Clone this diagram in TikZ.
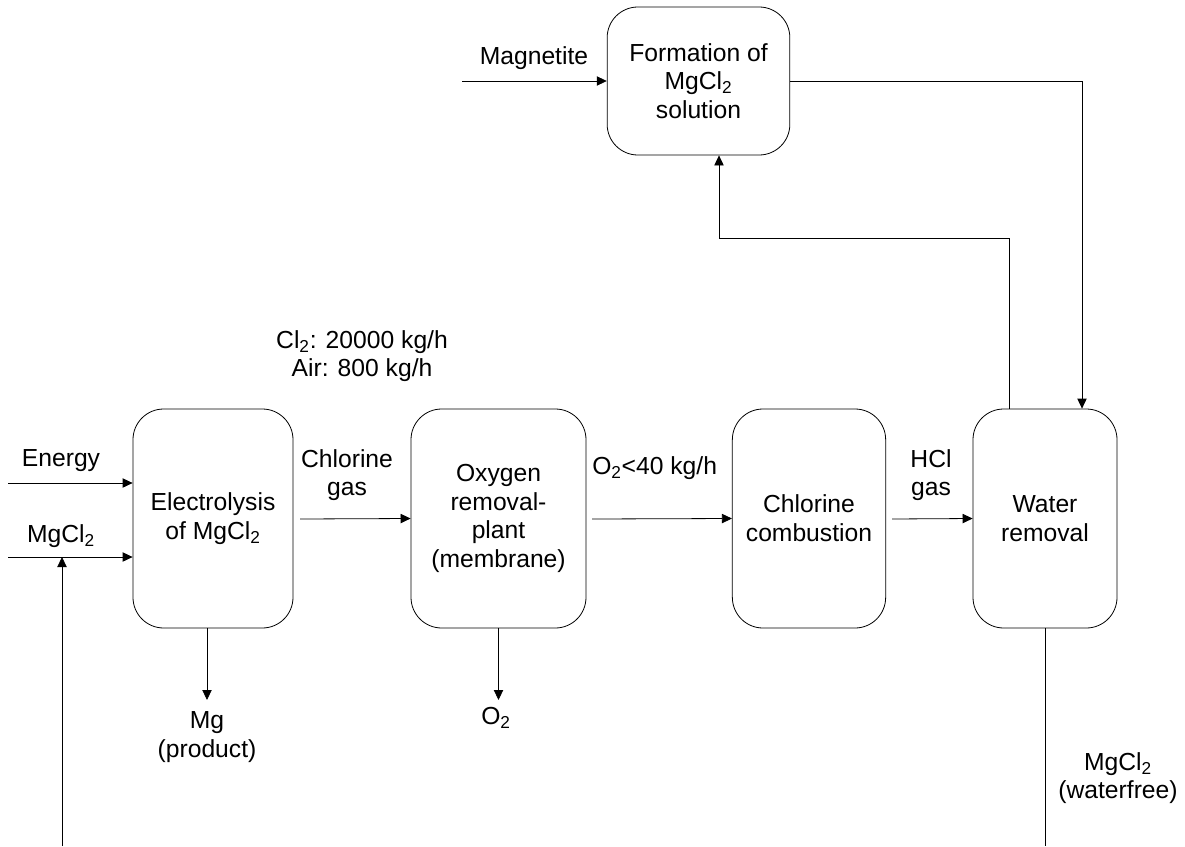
\documentclass[tikz,border=0pt]{standalone}
\usepackage{fontspec}
\setmainfont{Liberation Sans}
\usetikzlibrary{arrows.meta}

\tikzset{
  process/.style={draw, rounded corners=23pt, align=center, minimum height=164.25pt, line width=0.6pt, inner sep=1pt},
  flow/.style={-{Triangle[length=7.5pt,width=7pt]}, line width=0.6pt},
  line/.style={line width=0.6pt},
  txt/.style={align=center, inner sep=0pt}
}

\begin{document}
\fontsize{18.5}{21.5}\selectfont
\begin{tikzpicture}[x=0.75pt, y=-0.75pt]
  \useasboundingbox (0,0) rectangle (1185,846);

  % process units
  \node[process, minimum width=120pt] (electro) at (213,518.5) {Electrolysis\\of MgCl\textsubscript{2}};
  \node[process, minimum width=131.25pt] (oxygen) at (498.5,518.5) {Oxygen\\removal-\\plant\\(membrane)};
  \node[process, minimum width=115pt] (combust) at (809,518.5) {Chlorine\\combustion};
  \node[process, minimum width=108pt] (water) at (1045,518.5) {Water\\removal};
  \node[process, minimum width=137pt, minimum height=111pt] (formation) at (698.5,81) {Formation of\\MgCl\textsubscript{2}\\solution};

  % free ends
  \coordinate (energy) at (8,483);
  \coordinate (feed) at (8,557);
  \coordinate (recycle) at (62,846);
  \coordinate (mg) at (207,700);
  \coordinate (otwo) at (498.5,700);
  \coordinate (chlorine) at (300,519);
  \coordinate (oxout) at (592,519);
  \coordinate (hclout) at (892,519);
  \coordinate (magnetite) at (462,81);
  \coordinate (hclin) at (1009,238);
  \coordinate (solout) at (1082,81);
  \coordinate (product) at (1045,846);

  % labels
  \node[txt] (energylbl) at (61,461) {Energy};
  \node[txt] (feedlbl) at (61,536) {MgCl\textsubscript{2}};
  \node[txt] (chlorinelbl) at (347,475) {Chlorine\\gas};
  \node[txt] (gaslbl) at (362,356) {Cl\textsubscript{2}: 20000 kg/h\\Air: 800 kg/h};
  \node[txt, anchor=west] (oxlbl) at (592,468) {O\textsubscript{2}<40 kg/h};
  \node[txt] (hcllbl) at (931,475) {HCl\\gas};
  \node[txt] (magnetitelbl) at (534,58) {Magnetite};
  \node[txt] (mglbl) at (207,737) {Mg\\(product)};
  \node[txt] (otwolbl) at (496,718) {O\textsubscript{2}};
  \node[txt] (productlbl) at (1118,778) {MgCl\textsubscript{2}\\(waterfree)};

  % streams
  \draw[flow] (energy) -- (energy -| electro.west);
  \draw[flow] (feed) -- (feed -| electro.west);
  \draw[flow] (recycle) -- (recycle |- feed);
  \draw[flow] (mg |- electro.south) -- (mg);
  \draw[flow] (chlorine) -- (oxygen.west);
  \draw[flow] (oxygen) -- (otwo);
  \draw[flow] (oxout) -- (combust.west);
  \draw[flow] (hclout) -- (water.west);
  \draw[flow] (magnetite) -- (formation.west);
  \draw[flow] (hclin |- water.north) -- (hclin) -| (719,0 |- formation.south);
  \draw[flow] (formation.east) -- (solout) -- (solout |- water.north);
  \draw[line] (water) -- (product);
\end{tikzpicture}
\end{document}
